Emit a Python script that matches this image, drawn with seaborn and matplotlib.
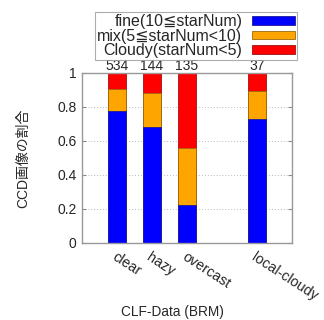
import numpy as np
import pandas as pd
import matplotlib
matplotlib.use("Agg")
import matplotlib.pyplot as plt
import seaborn as sns
from matplotlib.patches import Patch

categories = ["clear", "hazy", "overcast", "local-cloudy"]
fine_counts = [415, 98, 30, 27]
mix_counts = [70, 29, 45, 6]
cloudy_counts = [49, 17, 60, 4]
series_labels = ["fine(10≦starNum)", "mix(5≦starNum<10)", "Cloudy(starNum<5)"]
series_colors = ["#0000ff", "#ffa500", "#ff0000"]
edge_colors = ["#1a1a9a", "#9a6a10", "#a01010"]
yticks = [0, 0.2, 0.4, 0.6, 0.8, 1]

sns.set_theme(style="white")
plt.rcParams["font.family"] = ["Liberation Sans", "DejaVu Sans", "Noto Sans CJK JP"]

totals = np.array(fine_counts) + np.array(mix_counts) + np.array(cloudy_counts)
fine = np.array(fine_counts) / totals
mix = np.array(mix_counts) / totals
cloudy = np.array(cloudy_counts) / totals

df = pd.DataFrame({
    "cat": categories,
    "top": fine + mix + cloudy,
    "mid": fine + mix,
    "low": fine,
})
order = ["clear", "hazy", "overcast", " ", "local-cloudy"]

fig = plt.figure(figsize=(3.24, 3.20), dpi=100)
ax = fig.add_axes([0.253, 0.241, 0.648, 0.531])

for col, c, ec in zip(["top", "mid", "low"], series_colors[::-1], edge_colors[::-1]):
    sns.barplot(data=df, x="cat", y=col, order=order, color=c, width=0.52,
                saturation=1, edgecolor=ec, linewidth=0.6, ax=ax)

top_container = ax.containers[0]
ax.bar_label(top_container, labels=[str(t) for t in totals], padding=0.3, fontsize=10)

ax.set_ylim(0, 1)
ax.set_xlim(-1, 5)
ax.set_yticks(yticks)
ax.set_yticklabels([f"{t:g}" for t in yticks], fontsize=10)
ax.set_xticks(range(len(order)))
ax.set_xticklabels(order, rotation=-33, ha="left", va="top",
                   rotation_mode="anchor", fontsize=10.3)
ax.tick_params(axis="x", length=0, pad=5)
ax.tick_params(axis="y", direction="in", length=3, color="#888888",
               right=True, left=True, pad=4, width=0.8)
for t in ax.get_xticklabels():
    if t.get_text().strip() == "":
        t.set_visible(False)
for s in ax.spines.values():
    s.set_color("#999999")
    s.set_linewidth(1.0)
ax.yaxis.grid(True, linestyle=(0, (1, 2)), color="#bbbbbb", linewidth=0.7)
ax.set_axisbelow(True)

ax.set_ylabel("CCD画像の割合", fontsize=10, labelpad=19,
              family=["Liberation Sans", "Noto Sans CJK JP"])
ax.set_xlabel("CLF-Data (BRM)", fontsize=9.8)
ax.xaxis.set_label_coords(0.43, -0.365)

handles = [Patch(facecolor=c, edgecolor=ec, linewidth=0.6) for c, ec in zip(series_colors, edge_colors)]
leg = fig.legend(handles, series_labels, loc="upper right",
                 bbox_to_anchor=(297 / 324, 1 - 12 / 320), markerfirst=False,
                 fontsize=11.5, frameon=True, fancybox=False, handlelength=2.7,
                 handleheight=0.45, labelspacing=-0.02, borderpad=0.12,
                 handletextpad=0.6, borderaxespad=0)
leg.get_frame().set_edgecolor("#999999")
leg.get_frame().set_linewidth(0.8)

fig.savefig("out.png", dpi=100)
